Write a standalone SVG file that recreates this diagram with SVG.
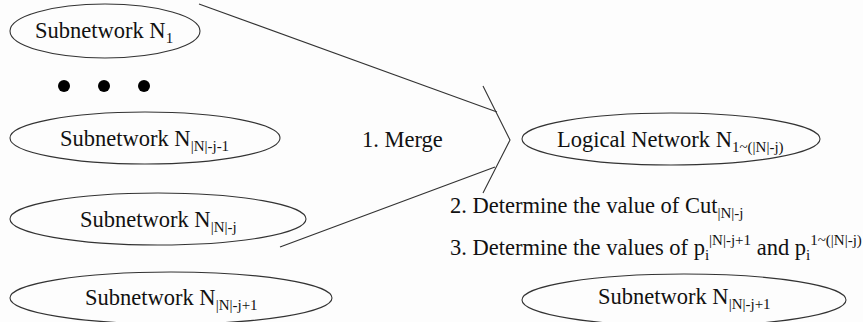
<svg xmlns="http://www.w3.org/2000/svg" width="863" height="322" viewBox="0 0 863 322">
<style>
.bg{fill:#fdfdfd}
.node ellipse{fill:none;stroke:#333;stroke-width:1.1}
text{font-family:"Liberation Serif","Times New Roman",serif;font-size:22.5px;fill:#111}
.s{font-size:15px}
.conn line,.conn polyline{stroke:#333;stroke-width:1.1;fill:none}
.dot{fill:#000}
</style>
<rect class="bg" x="0" y="0" width="863" height="322"/>
<g id="sub1" class="node">
<ellipse cx="105" cy="31" rx="95" ry="27"/>
<text x="35" y="38">Subnetwork N<tspan class="s" dy="5">1</tspan></text>
</g>
<g id="dots">
<circle class="dot" cx="64" cy="86" r="6"/>
<circle class="dot" cx="104" cy="86" r="6"/>
<circle class="dot" cx="144" cy="86" r="6"/>
</g>
<g id="subNj1" class="node">
<ellipse cx="145" cy="138" rx="135" ry="26"/>
<text x="60" y="146">Subnetwork N<tspan class="s" dy="5">|N|-j-1</tspan></text>
</g>
<g id="subNj" class="node">
<ellipse cx="158" cy="219" rx="148" ry="26"/>
<text x="80" y="227">Subnetwork N<tspan class="s" dy="5">|N|-j</tspan></text>
</g>
<g id="subNjp1" class="node">
<ellipse cx="171" cy="298" rx="161" ry="26"/>
<text x="85" y="305">Subnetwork N<tspan class="s" dy="5">|N|-j+1</tspan></text>
</g>
<g id="logical" class="node">
<ellipse cx="671" cy="139" rx="149" ry="26"/>
<text x="557" y="147">Logical Network N<tspan class="s" dy="5">1~(|N|-j)</tspan></text>
</g>
<g id="subNjp1r" class="node">
<ellipse cx="684" cy="300" rx="162" ry="26"/>
<text x="598" y="304">Subnetwork N<tspan class="s" dy="5">|N|-j+1</tspan></text>
</g>
<g id="connectors" class="conn">
<line x1="199" y1="4" x2="497" y2="112"/>
<line x1="280" y1="247" x2="495" y2="167"/>
<polyline points="483,86 510,140 483,193"/>
</g>
<g id="labels">
<text x="362" y="147">1. Merge</text>
<text x="450" y="213">2. Determine the value of Cut<tspan class="s" dy="5">|N|-j</tspan></text>
<text x="450" y="255">3. Determine the values of p<tspan class="s" dy="5">i</tspan><tspan class="s" dy="-15">|N|-j+1</tspan><tspan dy="10"> and p</tspan><tspan class="s" dy="5">i</tspan><tspan class="s" dy="-15">1~(|N|-j)</tspan></text>
</g>
</svg>
